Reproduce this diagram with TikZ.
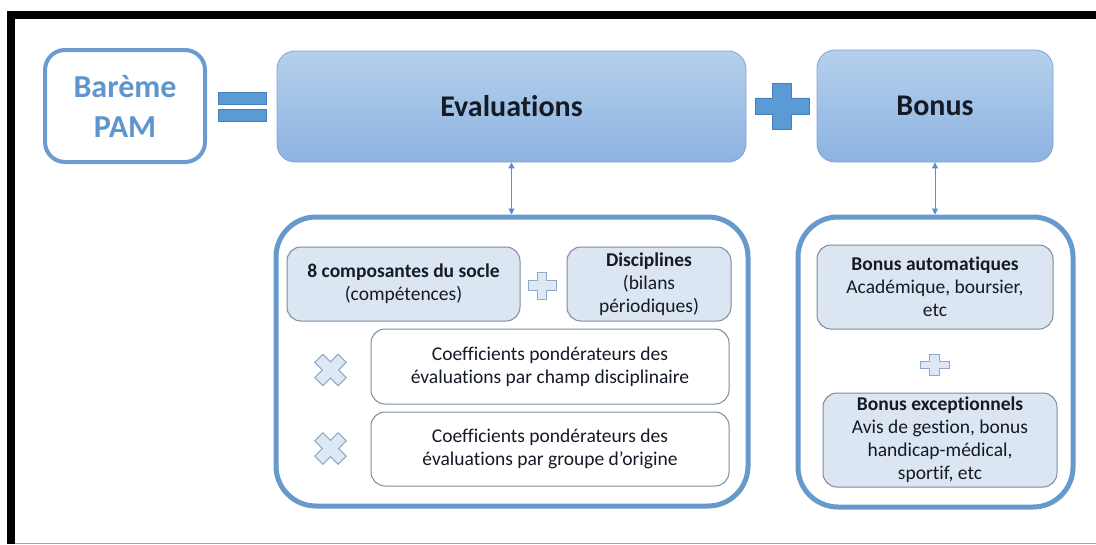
\documentclass[tikz,border=0pt]{standalone}
\usepackage{fontspec}
\setmainfont[Ligatures={NoCommon}]{Carlito}
\usetikzlibrary{arrows.meta}
\definecolor{opfill}{HTML}{5B9BD5}
\definecolor{opdraw}{HTML}{4A7EBB}
\definecolor{baremetext}{HTML}{5E95CF}
\definecolor{bareme}{HTML}{6A9BD1}
\definecolor{bigtop}{HTML}{B6D0EC}
\definecolor{bigbot}{HTML}{8CB3E1}
\definecolor{bigdraw}{HTML}{7FA5D6}
\definecolor{outer}{HTML}{6699CC}
\definecolor{innerfill}{HTML}{DCE6F3}
\definecolor{innerdraw}{HTML}{7D8A9C}
\definecolor{iconfill}{HTML}{DEE8F4}
\definecolor{icondraw}{HTML}{8EA8C8}
\definecolor{linkcol}{HTML}{5B8FC9}
\definecolor{ink}{HTML}{141A26}
\tikzset{
  bigfont/.style={font=\fontsize{30}{40}\selectfont\bfseries},
  smallfont/.style={font=\fontsize{19.5}{23}\selectfont},
  baremebox/.style={draw=bareme, line width=4pt, rounded corners=20pt, fill=white,
    text=baremetext, font=\fontsize{32}{40}\selectfont\bfseries, align=center, inner sep=0pt, outer sep=0pt},
  bigbox/.style={draw=bigdraw, line width=0.8pt, rounded corners=18pt,
    top color=bigtop, bottom color=bigbot, text=ink, bigfont, inner sep=0pt},
  outerbox/.style={draw=outer, line width=5pt, rounded corners=40pt, fill=white, inner sep=0pt},
  innerbox/.style={draw=innerdraw, line width=1pt, rounded corners=14pt, fill=innerfill,
    text=ink, smallfont, align=center, inner sep=0pt},
  coefbox/.style={innerbox, fill=white},
  link/.style={{Triangle[width=6pt,length=6pt]}-{Triangle[width=6pt,length=6pt]}, draw=linkcol, fill=linkcol, line width=0.9pt},
  bigop/.style={fill=opfill, draw=opdraw, line width=0.8pt},
  smallop/.style={fill=iconfill, draw=icondraw, line width=1pt},
  plussign/.pic={\path[pic actions] (-0.35,-1) -- (0.35,-1) -- (0.35,-0.35) -- (1,-0.35) -- (1,0.35)
     -- (0.35,0.35) -- (0.35,1) -- (-0.35,1) -- (-0.35,0.35) -- (-1,0.35) -- (-1,-0.35)
     -- (-0.35,-0.35) -- cycle;}
}
\begin{document}
\begin{tikzpicture}[x=1pt,y=-1pt]
\useasboundingbox (0,0) rectangle (1096,544);
\fill[white] (0,0) rectangle (1096,544);
% frame
\fill[black] (7,11) rectangle (15,544);
\fill[black] (7,11) rectangle (1096,19);
\draw[gray!70, line width=1pt] (15,543.5) -- (1096,543.5);

% top row
\node[baremebox, minimum width=160pt, minimum height=112pt] (bareme) at (125,106) {Barème\\PAM};
\fill[bigop] (218,92) rectangle (266,104);
\fill[bigop] (218,109) rectangle (266,121);
\node[bigbox, minimum width=469pt, minimum height=111pt] (eval) at (511.5,106.5) {Evaluations};
\pic[bigop, xscale=27, yscale=23] at (782,106) {plussign};
\node[bigbox, minimum width=236pt, minimum height=112pt] (bonus) at (935,106) {Bonus};

% outer boxes
\node[outerbox, minimum width=472pt, minimum height=289pt] (lbox) at (512,361.5) {};
\node[outerbox, minimum width=275pt, minimum height=290pt] (rbox) at (935.5,362) {};

\draw[link] (eval.south) -- (eval.south |- lbox.north);
\draw[link] (bonus.south) -- (bonus.south |- rbox.north);

% left inner
\node[innerbox, minimum width=233pt, minimum height=74pt] (socle) at (403.5,284)
  {\textbf{8 composantes du socle}\\(compétences)};
\pic[smallop, xscale=14, yscale=13.5] at (542,285.5) {plussign};
\node[innerbox, minimum width=164pt, minimum height=74pt] (disc) at (649,284)
  {\textbf{Disciplines}\\(bilans\\périodiques)};
\pic[smallop, rotate=45, scale=16.5] at (330.5,370) {plussign};
\node[coefbox, minimum width=358pt, minimum height=75pt] (coef1) at (550,366.5)
  {Coefficients pondérateurs des\\évaluations par champ disciplinaire};
\pic[smallop, rotate=45, scale=16.5] at (330.5,448.5) {plussign};
\node[coefbox, minimum width=358pt, minimum height=74pt] (coef2) at (550,449)
  {Coefficients pondérateurs des\\évaluations par groupe d’origine};

% right inner
\node[innerbox, minimum width=236pt, minimum height=84pt] (bauto) at (935,287)
  {\textbf{Bonus automatiques}\\Académique, boursier,\\etc};
\pic[smallop, xscale=14.5, yscale=10.5] at (934.5,365) {plussign};
\node[innerbox, minimum width=234pt, minimum height=94pt] (bexc) at (940,440)
  {\textbf{Bonus exceptionnels}\\Avis de gestion, bonus\\handicap-médical,\\sportif, etc};
\end{tikzpicture}
\end{document}
